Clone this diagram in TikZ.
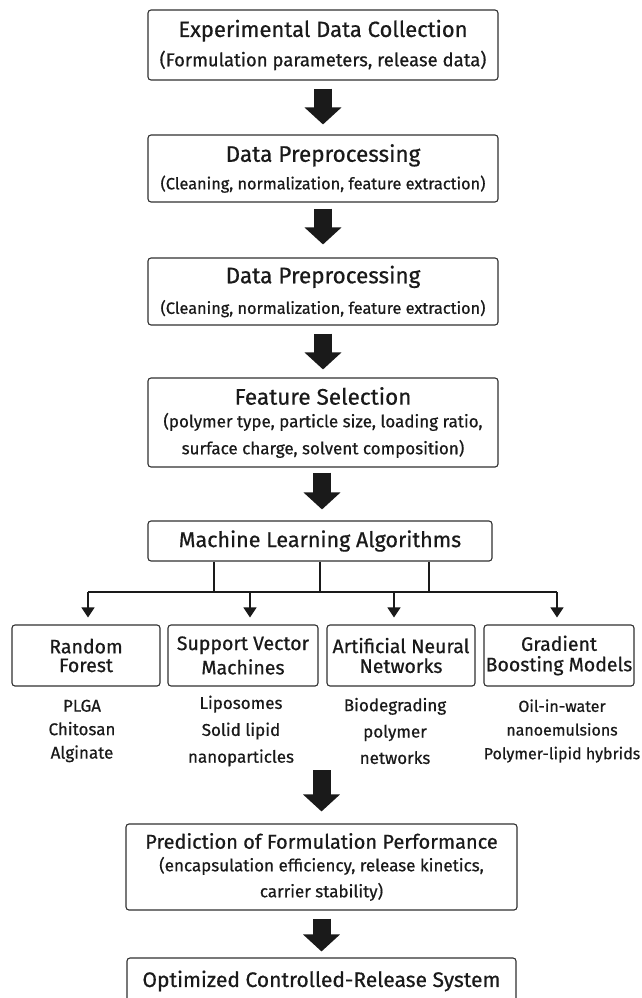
\documentclass[tikz,border=0pt]{standalone}
\usepackage{fontspec}
\setmainfont{Fira Sans}[FakeBold=0.6]
\usetikzlibrary{arrows.meta,calc}
\definecolor{ink}{HTML}{1A1A1A}
\tikzset{
  box/.style={draw=ink!90, line width=1.1pt, rounded corners=3pt, align=center, inner sep=0pt, text=ink, fill=white},
  big/.style={draw=ink, line width=18pt, -{Triangle[width=36pt,length=17pt]}},
  thin/.style={draw=ink, line width=1.1pt},
  small/.style={thin, -{Triangle[width=13pt,length=10pt]}},
  lbl/.style={align=center, text=ink, inner sep=0pt},
}
\newcommand{\fs}[1]{\fontsize{#1}{#1}\selectfont}
\begin{document}
\begin{tikzpicture}[x=1pt,y=-1pt]
\useasboundingbox[fill=white] (0,0) rectangle (641,998);
\node[box, minimum width=350, minimum height=70] (b1) at (323,45)
  {\fs{22}Experimental Data Collection\\[8pt]\fs{18.5}(Formulation parameters, release data)};
\node[box, minimum width=350, minimum height=67] (b2) at (323,168.5)
  {\fs{22.5}Data Preprocessing\\[8pt]\fs{16.3}(Cleaning, normalization, feature extraction)};
\node[box, minimum width=350, minimum height=67] (b3) at (323,291.5)
  {\fs{22.5}Data Preprocessing\\[11pt]\fs{16.3}(Cleaning, normalization, feature extraction)};
\node[box, minimum width=350, minimum height=89] (b4) at (323,422.5)
  {\fs{22.5}Feature Selection\\[7pt]\fs{17}(polymer type, particle size, loading ratio,\\[8pt]\fs{17}surface charge, solvent composition)};
\node[box, minimum width=344, minimum height=40] (ml) at (320,541)
  {\fs{21.5}Machine Learning Algorithms};
\node[box, minimum width=148, minimum height=61] (ma) at (86,655.5)
  {\fs{19.5}Random\\[4pt]\fs{19.5}Forest};
\node[box, minimum width=150, minimum height=61] (mb) at (243,655.5)
  {\fs{19.5}Support Vector\\[4pt]\fs{19.5}Machines};
\node[box, minimum width=148, minimum height=61] (mc) at (401,655.5)
  {\fs{19.5}Artificial Neural\\[4pt]\fs{19.5}Networks};
\node[box, minimum width=150, minimum height=61] (md) at (559,655.5)
  {\fs{19.5}Gradient\\[4pt]\fs{19.5}Boosting Models};
\node[lbl] (la) at (82,731) {\fs{17}PLGA\\[9pt]\fs{17}Chitosan\\[9pt]\fs{17}Alginate};
\node[lbl] (lb) at (241,731) {\fs{17}Liposomes\\[9pt]\fs{17}Solid lipid\\[9pt]\fs{17}nanoparticles};
\node[lbl] (lc) at (395,731) {\fs{17}Biodegrading\\[9pt]\fs{17}polymer\\[9pt]\fs{17}networks};
\node[lbl] (ld) at (562,731) {\fs{16}Oil-in-water\\[10pt]\fs{16}nanoemulsions\\[10pt]\fs{16}Polymer-lipid hybrids};
\node[box, minimum width=391, minimum height=86] (pr) at (321.5,867)
  {\fs{20}Prediction of Formulation Performance\\[7pt]\fs{17}(encapsulation efficiency, release kinetics,\\[7pt]\fs{17}carrier stability)};
\node[box, minimum width=389, minimum height=46] (fin) at (321.5,981)
  {\fs{21}Optimized Controlled-Release System};
% big arrows
\draw[big, shorten <=8pt, shorten >=10pt] (b1.south) -- (b2.north);
\draw[big, shorten <=6pt, shorten >=13pt] (b2.south) -- (b3.north);
\draw[big, shorten <=8pt, shorten >=8pt] (b3.south) -- (b4.north);
\coordinate (a4s) at ($(b4.south)+(-1,0)$);
\coordinate (a4e) at (a4s |- ml.north);
\draw[big, shorten <=5pt, shorten >=11pt] (a4s) -- (a4e);
\coordinate (a5) at (321.5,770);
\draw[big, shorten >=12pt] (a5) -- (pr.north);
\draw[big, shorten <=8pt, shorten >=6pt] (pr.south) -- (fin.north);
% tree
\coordinate (bus) at (0,592);
\coordinate (s1) at ($(ml.south)+(-106,0)$);
\coordinate (s2) at (ml.south);
\coordinate (s3) at ($(ml.south)+(109,0)$);
\coordinate (e1) at ($(ma.north)+(2,0)$);
\coordinate (e2) at ($(mb.north)+(7,0)$);
\coordinate (e3) at ($(mc.north)+(-7,0)$);
\coordinate (e4) at ($(md.north)+(-2,0)$);
\foreach \s in {s1,s2,s3} \draw[thin] (\s) -- (\s |- bus);
\draw[thin] (e1 |- bus) -- (e4 |- bus);
\foreach \e in {e1,e2,e3,e4} \draw[small, shorten >=7pt] (\e |- bus) -- (\e);
\end{tikzpicture}
\end{document}
